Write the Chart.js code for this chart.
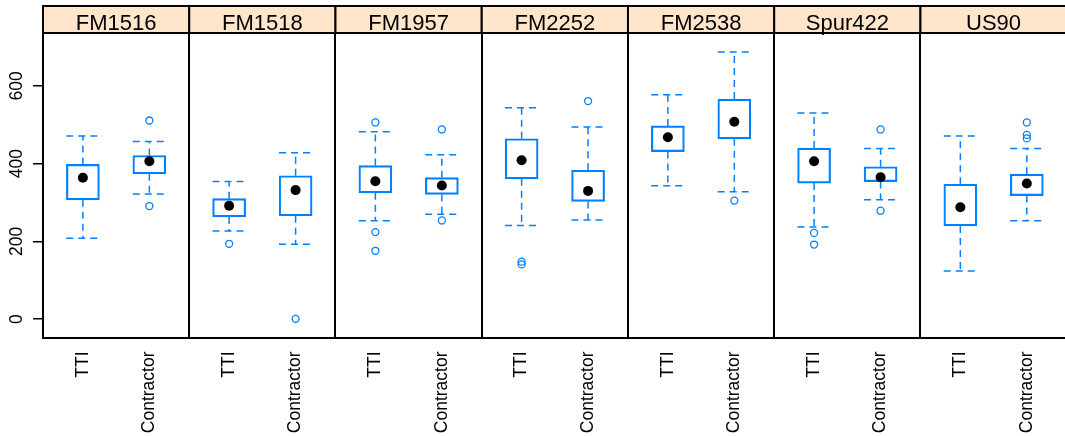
<!DOCTYPE html>
<html>
<head>
<meta charset="utf-8">
<script src="https://cdn.jsdelivr.net/npm/chart.js@4"></script>
<style>
  html, body { margin: 0; padding: 0; background: #fff; overflow: hidden; }
</style>
</head>
<body>
<canvas id="bw" width="1072" height="436"></canvas>
<script>
// Panels (strip labels) and the two groups inside each panel
const panels = ['FM1516', 'FM1518', 'FM1957', 'FM2252', 'FM2538', 'Spur422', 'US90'];
const groups = ['TTI', 'Contractor'];

// Box statistics, one entry per panel/group pair: TTI, Contractor, TTI, Contractor...
const lowerWhisker = [208, 322, 227, 193, 253, 270, 241, 255, 343, 328, 237, 307, 124, 253];
const lowerHinge   = [307, 374, 263, 266, 325, 321, 361, 303, 431, 464, 350, 354, 240, 318];
const medians      = [364, 406, 292, 332, 355, 344, 409, 330, 468, 508, 406, 365, 288, 349];
const upperHinge   = [398, 421, 310, 369, 395, 364, 464, 383, 497, 566, 440, 392, 347, 373];
const upperWhisker = [471, 457, 354, 428, 482, 423, 544, 494, 577, 687, 530, 439, 471, 439];
const outliers = [
  [], [511, 291],
  [194], [1],
  [506, 224, 176], [488, 254],
  [148, 141], [561],
  [], [305],
  [222, 192], [488, 279],
  [], [506, 474, 465]
];

const yTicks = [0, 200, 400, 600];

// x layout: every panel is 2.2 units wide, groups sit at 0.6 and 1.6 inside it
const span = groups.length + 0.2;
const capHalf = 0.25;
const xPos = [];
panels.forEach((p, i) => groups.forEach((g, j) => xPos.push(i * span + 0.6 + j)));
const boundaries = panels.map((p, i) => i * span).concat(panels.length * span);

const blue = '#0080ff';

// whiskers + caps as one broken line
const whiskerData = [];
xPos.forEach((x, i) => {
  whiskerData.push({ x: x, y: upperHinge[i] }, { x: x, y: upperWhisker[i] }, { x: x, y: null });
  whiskerData.push({ x: x - capHalf, y: upperWhisker[i] }, { x: x + capHalf, y: upperWhisker[i] }, { x: x, y: null });
  whiskerData.push({ x: x, y: lowerHinge[i] }, { x: x, y: lowerWhisker[i] }, { x: x, y: null });
  whiskerData.push({ x: x - capHalf, y: lowerWhisker[i] }, { x: x + capHalf, y: lowerWhisker[i] }, { x: x, y: null });
});

const outlierData = [];
xPos.forEach((x, i) => outliers[i].forEach(v => outlierData.push({ x: x, y: v })));

// strip headers above each panel
const stripPlugin = {
  id: 'strips',
  afterDraw(chart) {
    const { ctx, chartArea } = chart;
    const xs = chart.scales.xp;
    const top = 6;
    ctx.save();
    panels.forEach((name, i) => {
      const x0 = xs.getPixelForValue(boundaries[i]);
      const x1 = xs.getPixelForValue(boundaries[i + 1]);
      ctx.fillStyle = '#ffe5cc';
      ctx.fillRect(x0, top, x1 - x0, chartArea.top - top);
      ctx.strokeStyle = '#000';
      ctx.lineWidth = 2;
      ctx.strokeRect(x0, top, x1 - x0, chartArea.top - top);
      ctx.fillStyle = '#000';
      ctx.font = '22px "Liberation Sans", Arial, sans-serif';
      ctx.textAlign = 'center';
      ctx.textBaseline = 'alphabetic';
      ctx.fillText(name, (x0 + x1) / 2, chartArea.top - 3);
    });
    ctx.restore();
  }
};

Chart.defaults.font.family = '"Liberation Sans", Arial, sans-serif';
Chart.defaults.color = '#000';

new Chart(document.getElementById('bw'), {
  type: 'bar',
  data: {
    datasets: [
      {
        type: 'scatter',
        xAxisID: 'x',
        data: xPos.map((x, i) => ({ x: x, y: medians[i] })),
        pointRadius: 5,
        pointBackgroundColor: '#000',
        pointBorderWidth: 0,
        order: 0
      },
      {
        type: 'scatter',
        xAxisID: 'x',
        data: outlierData,
        pointRadius: 3.5,
        pointBorderColor: blue,
        pointBackgroundColor: 'rgba(0,0,0,0)',
        pointBorderWidth: 1.3,
        order: 1
      },
      {
        type: 'line',
        xAxisID: 'x',
        data: whiskerData,
        borderColor: blue,
        borderWidth: 1.5,
        borderDash: [7, 5],
        pointRadius: 0,
        tension: 0,
        spanGaps: false,
        fill: false,
        order: 2
      },
      {
        type: 'bar',
        xAxisID: 'x',
        data: xPos.map((x, i) => ({ x: x, y: [lowerHinge[i], upperHinge[i]] })),
        barThickness: 33,
        borderColor: blue,
        borderWidth: 1.5,
        borderSkipped: false,
        backgroundColor: 'rgba(0,0,0,0)',
        order: 3
      }
    ]
  },
  options: {
    responsive: false,
    animation: false,
    devicePixelRatio: 1,
    layout: { padding: { top: 33, right: 3, left: 0, bottom: 0 } },
    plugins: {
      legend: { display: false },
      tooltip: { enabled: false }
    },
    scales: {
      x: {
        type: 'linear',
        position: 'bottom',
        min: 0,
        max: panels.length * span,
        offset: false,
        afterBuildTicks: s => { s.ticks = xPos.map(v => ({ value: v })); },
        afterFit: s => { s.height = 98.5; },
        ticks: {
          callback: (v, i) => groups[i % groups.length],
          autoSkip: false,
          minRotation: 90,
          maxRotation: 90,
          padding: 6,
          font: { size: 17.5 },
          color: '#000'
        },
        grid: { display: false, offset: false },
        border: { display: true, color: '#000', width: 2 }
      },
      xp: {
        type: 'linear',
        axis: 'x',
        position: 'top',
        min: 0,
        max: panels.length * span,
        offset: false,
        afterBuildTicks: s => { s.ticks = boundaries.map(v => ({ value: v })); },
        afterFit: s => { s.height = 0; },
        ticks: { display: false },
        grid: { drawOnChartArea: true, drawTicks: false, color: '#000', lineWidth: 2, offset: false },
        border: { display: true, color: '#000', width: 2 }
      },
      y: {
        type: 'linear',
        min: -47,
        max: 736,
        afterBuildTicks: s => { s.ticks = yTicks.map(v => ({ value: v })); },
        afterFit: s => { s.width = 43; },
        ticks: {
          minRotation: 90,
          maxRotation: 90,
          crossAlign: 'center',
          padding: 1,
          font: { size: 17.5 },
          color: '#000'
        },
        grid: { drawOnChartArea: false, drawTicks: true, tickLength: 10, color: '#000', lineWidth: 1.5 },
        border: { display: true, color: '#000', width: 2 }
      }
    }
  },
  plugins: [stripPlugin]
});
</script>
</body>
</html>
